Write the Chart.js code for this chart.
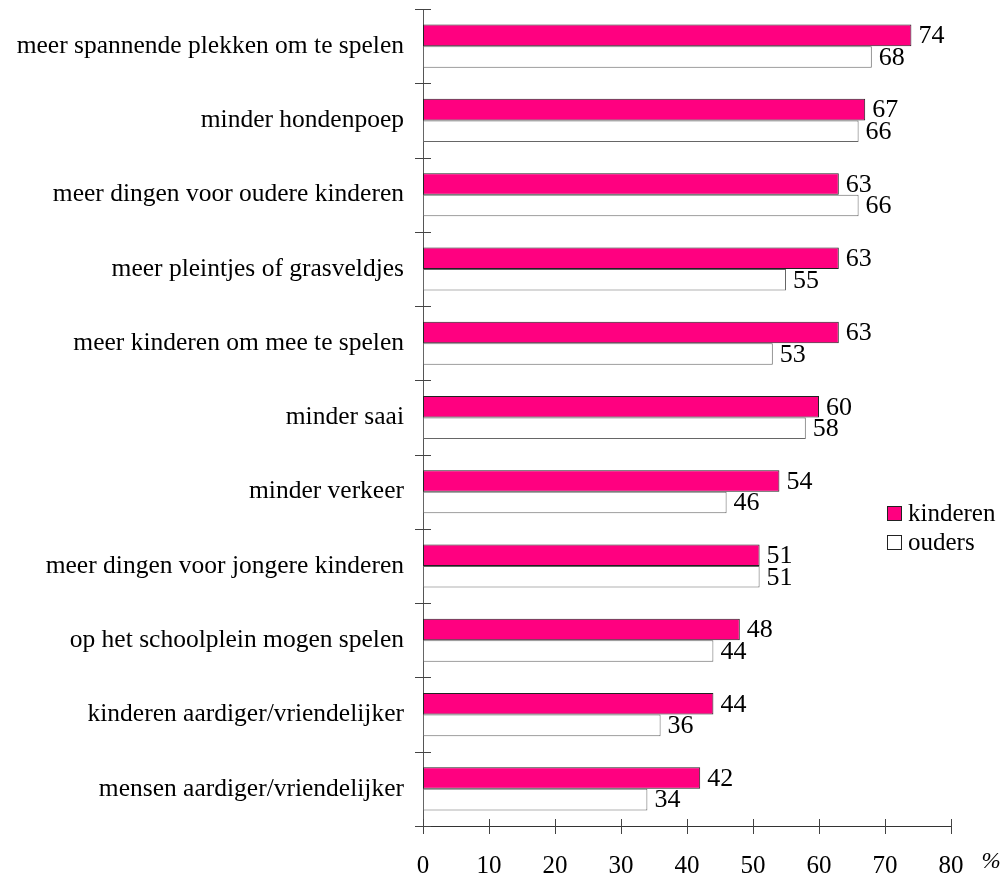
<!DOCTYPE html>
<html>
<head>
<meta charset="utf-8">
<script src="https://cdn.jsdelivr.net/npm/chart.js@4.4.1/dist/chart.umd.min.js"></script>
<style>
  body { margin: 0; background: #fff; }
</style>
</head>
<body>
<canvas id="wensen" width="1005" height="879"></canvas>
<script>
const categories = [
  'meer spannende plekken om te spelen',
  'minder hondenpoep',
  'meer dingen voor oudere kinderen',
  'meer pleintjes of grasveldjes',
  'meer kinderen om mee te spelen',
  'minder saai',
  'minder verkeer',
  'meer dingen voor jongere kinderen',
  'op het schoolplein mogen spelen',
  'kinderen aardiger/vriendelijker',
  'mensen aardiger/vriendelijker'
];
const kinderen = [74, 67, 63, 63, 63, 60, 54, 51, 48, 44, 42];
const ouders = [68, 66, 66, 55, 53, 58, 46, 51, 44, 36, 34];
const xTicks = [0, 10, 20, 30, 40, 50, 60, 70, 80];
const unitLabel = '%';

const serif = "'Liberation Serif', 'Times New Roman', serif";
Chart.defaults.font.family = serif;
Chart.defaults.color = '#000';

// streepjes die door de assen heen lopen
const crossTicks = {
  id: 'crossTicks',
  afterDraw(chart) {
    const ctx = chart.ctx;
    const x = chart.scales.x;
    const y = chart.scales.y;
    const area = chart.chartArea;
    ctx.save();
    ctx.strokeStyle = '#444';
    ctx.lineWidth = 1;
    ctx.beginPath();
    for (let i = 0; i <= categories.length; i++) {
      const py = Math.round(y.getPixelForValue(i - 0.5)) + 0.5;
      ctx.moveTo(area.left - 8, py);
      ctx.lineTo(area.left + 8, py);
    }
    xTicks.forEach(v => {
      const px = Math.round(x.getPixelForValue(v)) + 0.5;
      ctx.moveTo(px, area.bottom - 7);
      ctx.lineTo(px, area.bottom + 8);
    });
    ctx.stroke();

    ctx.font = 'italic 23px ' + serif;
    ctx.textAlign = 'center';
    ctx.textBaseline = 'middle';
    ctx.fillStyle = '#000';
    ctx.fillText(unitLabel, area.right + 40, area.bottom + 36);
    ctx.restore();
  }
};

const valueLabels = {
  id: 'valueLabels',
  afterDatasetsDraw(chart) {
    const ctx = chart.ctx;
    ctx.save();
    ctx.font = '26px ' + serif;
    ctx.fillStyle = '#000';
    ctx.textAlign = 'left';
    ctx.textBaseline = 'middle';
    chart.data.datasets.forEach((ds, di) => {
      chart.getDatasetMeta(di).data.forEach((bar, i) => {
        ctx.fillText(ds.data[i], bar.x + 7, bar.y + 1);
      });
    });
    ctx.restore();
  }
};

const sideLegend = {
  id: 'sideLegend',
  afterDraw(chart) {
    const ctx = chart.ctx;
    const area = chart.chartArea;
    const left = area.right - 64;
    let top = 506;
    ctx.save();
    ctx.font = '25px ' + serif;
    ctx.textAlign = 'left';
    ctx.textBaseline = 'middle';
    chart.data.datasets.forEach(ds => {
      ctx.fillStyle = ds.backgroundColor;
      ctx.fillRect(left, top, 15, 15);
      ctx.strokeStyle = '#222';
      ctx.lineWidth = 1;
      ctx.strokeRect(left + 0.5, top + 0.5, 14, 14);
      ctx.fillStyle = '#000';
      ctx.fillText(ds.label, left + 21, top + 8);
      top += 29;
    });
    ctx.restore();
  }
};

new Chart(document.getElementById('wensen').getContext('2d'), {
  type: 'bar',
  data: {
    labels: categories,
    datasets: [{
      label: 'kinderen',
      data: kinderen,
      backgroundColor: '#ff0080',
      borderColor: '#222',
      borderWidth: 1,
      borderSkipped: false
    }, {
      label: 'ouders',
      data: ouders,
      backgroundColor: '#ffffff',
      borderColor: '#666',
      borderWidth: 1,
      borderSkipped: false
    }]
  },
  options: {
    indexAxis: 'y',
    responsive: false,
    devicePixelRatio: 1,
    animation: false,
    categoryPercentage: 0.58,
    barPercentage: 1,
    layout: { padding: { top: 9, right: 54, left: 0, bottom: 0 } },
    plugins: {
      legend: { display: false },
      tooltip: { enabled: false }
    },
    scales: {
      x: {
        min: 0,
        max: 80,
        afterFit: scale => {
          scale.height = 53;
          scale.paddingLeft = 0;
          scale.paddingRight = 0;
        },
        afterBuildTicks: scale => { scale.ticks = xTicks.map(v => ({ value: v })); },
        grid: { display: false, drawTicks: false },
        border: { display: true, color: '#333', width: 1 },
        ticks: { font: { size: 25 }, padding: 25, color: '#000' }
      },
      y: {
        afterFit: scale => {
          scale.width = 423;
          scale.paddingTop = 0;
          scale.paddingBottom = 0;
        },
        grid: { display: false, drawTicks: false },
        border: { display: true, color: '#555', width: 1 },
        ticks: { font: { size: 25.5 }, padding: 19, color: '#000' }
      }
    }
  },
  plugins: [valueLabels, crossTicks, sideLegend]
});
</script>
</body>
</html>
